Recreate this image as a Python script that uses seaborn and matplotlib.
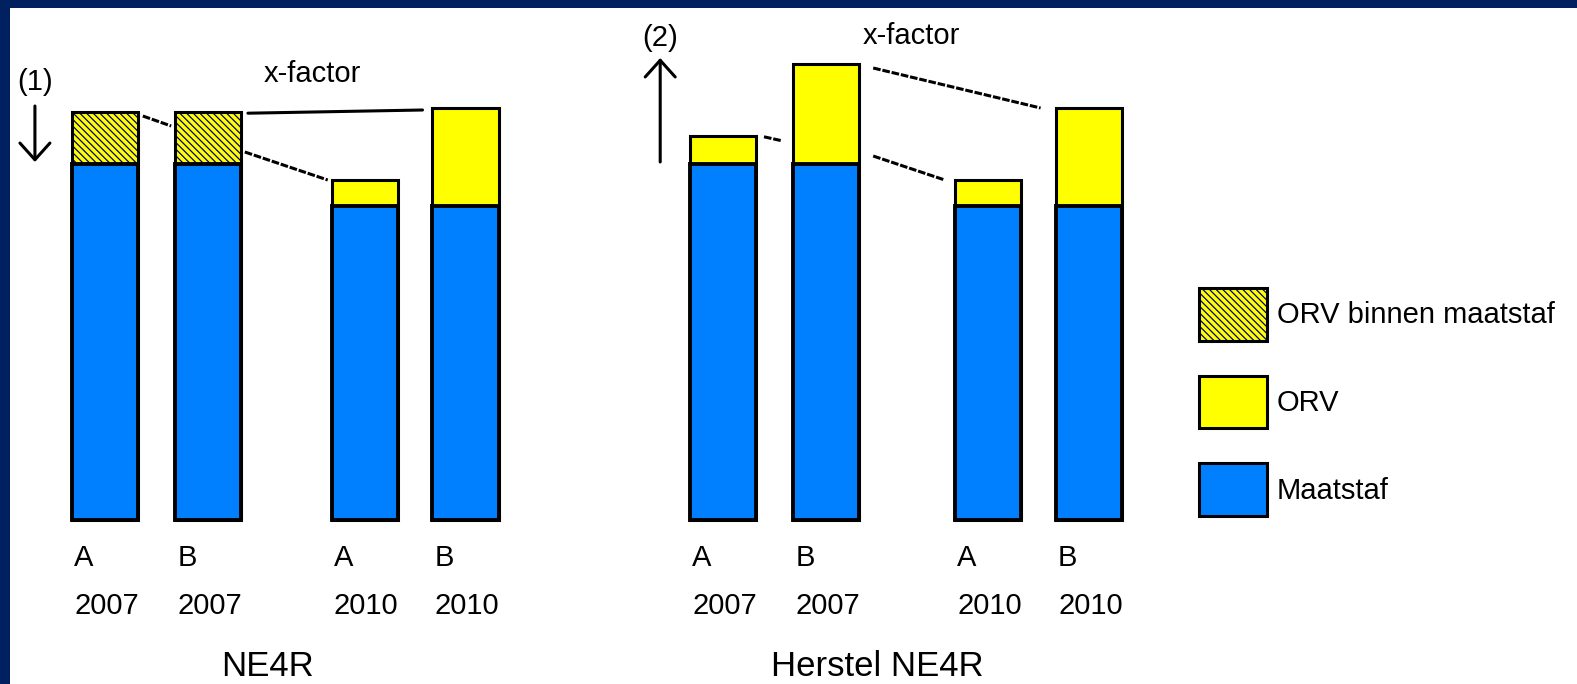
import numpy as np
import pandas as pd
import seaborn as sns
import matplotlib.pyplot as plt
from matplotlib.colors import to_rgba
from matplotlib.patches import Patch

# values (arbitrary units, baseline = 0)
groups = ["NE4R", "Herstel NE4R"]
variants = ["A", "B", "A", "B", "A", "B", "A", "B"]
years = ["2007", "2007", "2010", "2010", "2007", "2007", "2010", "2010"]
maatstaf = [89, 89, 78.5, 78.5, 89, 89, 78.5, 78.5]
orv = [13, 13, 6.5, 24.5, 7, 25, 6.5, 24.5]
orv_binnen = [True, True, False, False, False, False, False, False]
legend_labels = ["ORV binnen maatstaf", "ORV", "Maatstaf"]

# layout
xpos = [0, 1, 2.52, 3.5, 6, 7, 8.57, 9.55]
bar_w = 0.655
title_x = [1.58, 7.5]

blue = "#0080FF"
yellow = "#FFFF00"
navy = "#002060"
dots = "#000080"
hatch = "\\" * 5

df = pd.DataFrame({"x": xpos, "maatstaf": maatstaf, "orv": orv})
df["totaal"] = df["maatstaf"] + df["orv"]
tot = df["totaal"].tolist()

sns.set_style("white")
plt.rcParams["font.family"] = ["Liberation Sans", "DejaVu Sans"]
plt.rcParams["text.color"] = "black"
plt.rcParams["hatch.linewidth"] = 0.9

fig = plt.figure(figsize=(15.77, 6.84), dpi=100, facecolor=navy)
ax = fig.add_axes([10 / 1577, 0, 1567 / 1577, 676 / 684])
ax.set_facecolor("white")

# yellow (ORV) bars full height, blue Maatstaf bars drawn over them
sns.barplot(data=df, x="x", y="totaal", native_scale=True, width=bar_w,
            color=yellow, saturation=1, edgecolor="black", linewidth=2.2,
            errorbar=None, ax=ax)
top_bars = list(ax.patches)
for p, h in zip(top_bars, orv_binnen):
    if h:
        p.set_hatch(hatch)
        p._hatch_color = to_rgba(dots)
sns.barplot(data=df, x="x", y="maatstaf", native_scale=True, width=bar_w,
            color=blue, saturation=1, edgecolor="black", linewidth=2.8,
            errorbar=None, ax=ax)

ax.set_xlim(-0.922, 14.29)
ax.set_ylim(-41, 128)
ax.set_xticks([])
ax.set_yticks([])
ax.set_xlabel("")
ax.set_ylabel("")
for s in ax.spines.values():
    s.set_visible(False)

# labels under the bars
for i in range(len(xpos)):
    x0 = xpos[i] - bar_w / 2 + 0.03
    ax.text(x0, -11.5, variants[i], ha="left", va="baseline", fontsize=21)
    ax.text(x0, -23.5, years[i], ha="left", va="baseline", fontsize=21)
for g, name in enumerate(groups):
    ax.text(title_x[g], -39.0, name, ha="center", va="baseline", fontsize=25)

# connector lines between bars
def right(i):
    return xpos[i] + bar_w / 2

def left(i):
    return xpos[i] - bar_w / 2

connectors = [
    (0, 1, tot[0] - 1, tot[1] - 3.5, 0.04, 0.03, "dash"),
    (1, 3, tot[1] - 0.3, tot[3] - 0.5, 0.06, 0.09, "solid"),
    (1, 2, maatstaf[1] + 3, tot[2], 0.03, 0.03, "dash"),
    (4, 5, tot[4] - 0.2, tot[4] - 1.2, 0.07, 0.1, "dash"),
    (5, 7, tot[5] - 1, tot[7], 0.13, 0.14, "dash"),
    (5, 6, maatstaf[5] + 2, tot[6], 0.13, 0.09, "dash"),
]
for i, j, ya, yb, ga, gb, st in connectors:
    ls = "-" if st == "solid" else (0, (2.5, 0.6))
    ax.plot([right(i) + ga, left(j) - gb], [ya, yb], color="black", lw=2.2, ls=ls)

ax.text(2.01, 109.5, "x-factor", ha="center", va="baseline", fontsize=21)
ax.text(7.83, 119, "x-factor", ha="center", va="baseline", fontsize=21)

# arrows (1) and (2)
arrow = dict(arrowstyle="->,head_length=0.6,head_width=0.54", lw=2.2,
             color="black", mutation_scale=20, shrinkA=0, shrinkB=0)
ax.annotate("", xy=(-0.68, maatstaf[0] + 0.5), xytext=(-0.68, tot[0] + 1.5),
            arrowprops=arrow)
ax.text(-0.68, tot[0] + 5.5, "(1)", ha="center", va="baseline", fontsize=21)
ax.annotate("", xy=(5.39, tot[5] + 1.5), xytext=(5.39, maatstaf[4] + 0.5),
            arrowprops=arrow)
ax.text(5.39, tot[5] + 4.5, "(2)", ha="center", va="baseline", fontsize=21)

# legend
h0 = Patch(facecolor=yellow, edgecolor="black", hatch=hatch, lw=2.2)
h0._hatch_color = to_rgba(dots)
h1 = Patch(facecolor=yellow, edgecolor="black", lw=2.2)
h2 = Patch(facecolor=blue, edgecolor="black", lw=2.2)
ax.legend([h0, h1, h2], legend_labels, loc="upper left",
          bbox_to_anchor=(1199 / 1577, 1 - 288 / 684),
          bbox_transform=fig.transFigure, frameon=False, fontsize=21,
          handlelength=2.33, handleheight=2.4, handletextpad=0.33,
          labelspacing=1.2, borderpad=0, borderaxespad=0)

fig.savefig("out.png", dpi=100, facecolor=navy)
